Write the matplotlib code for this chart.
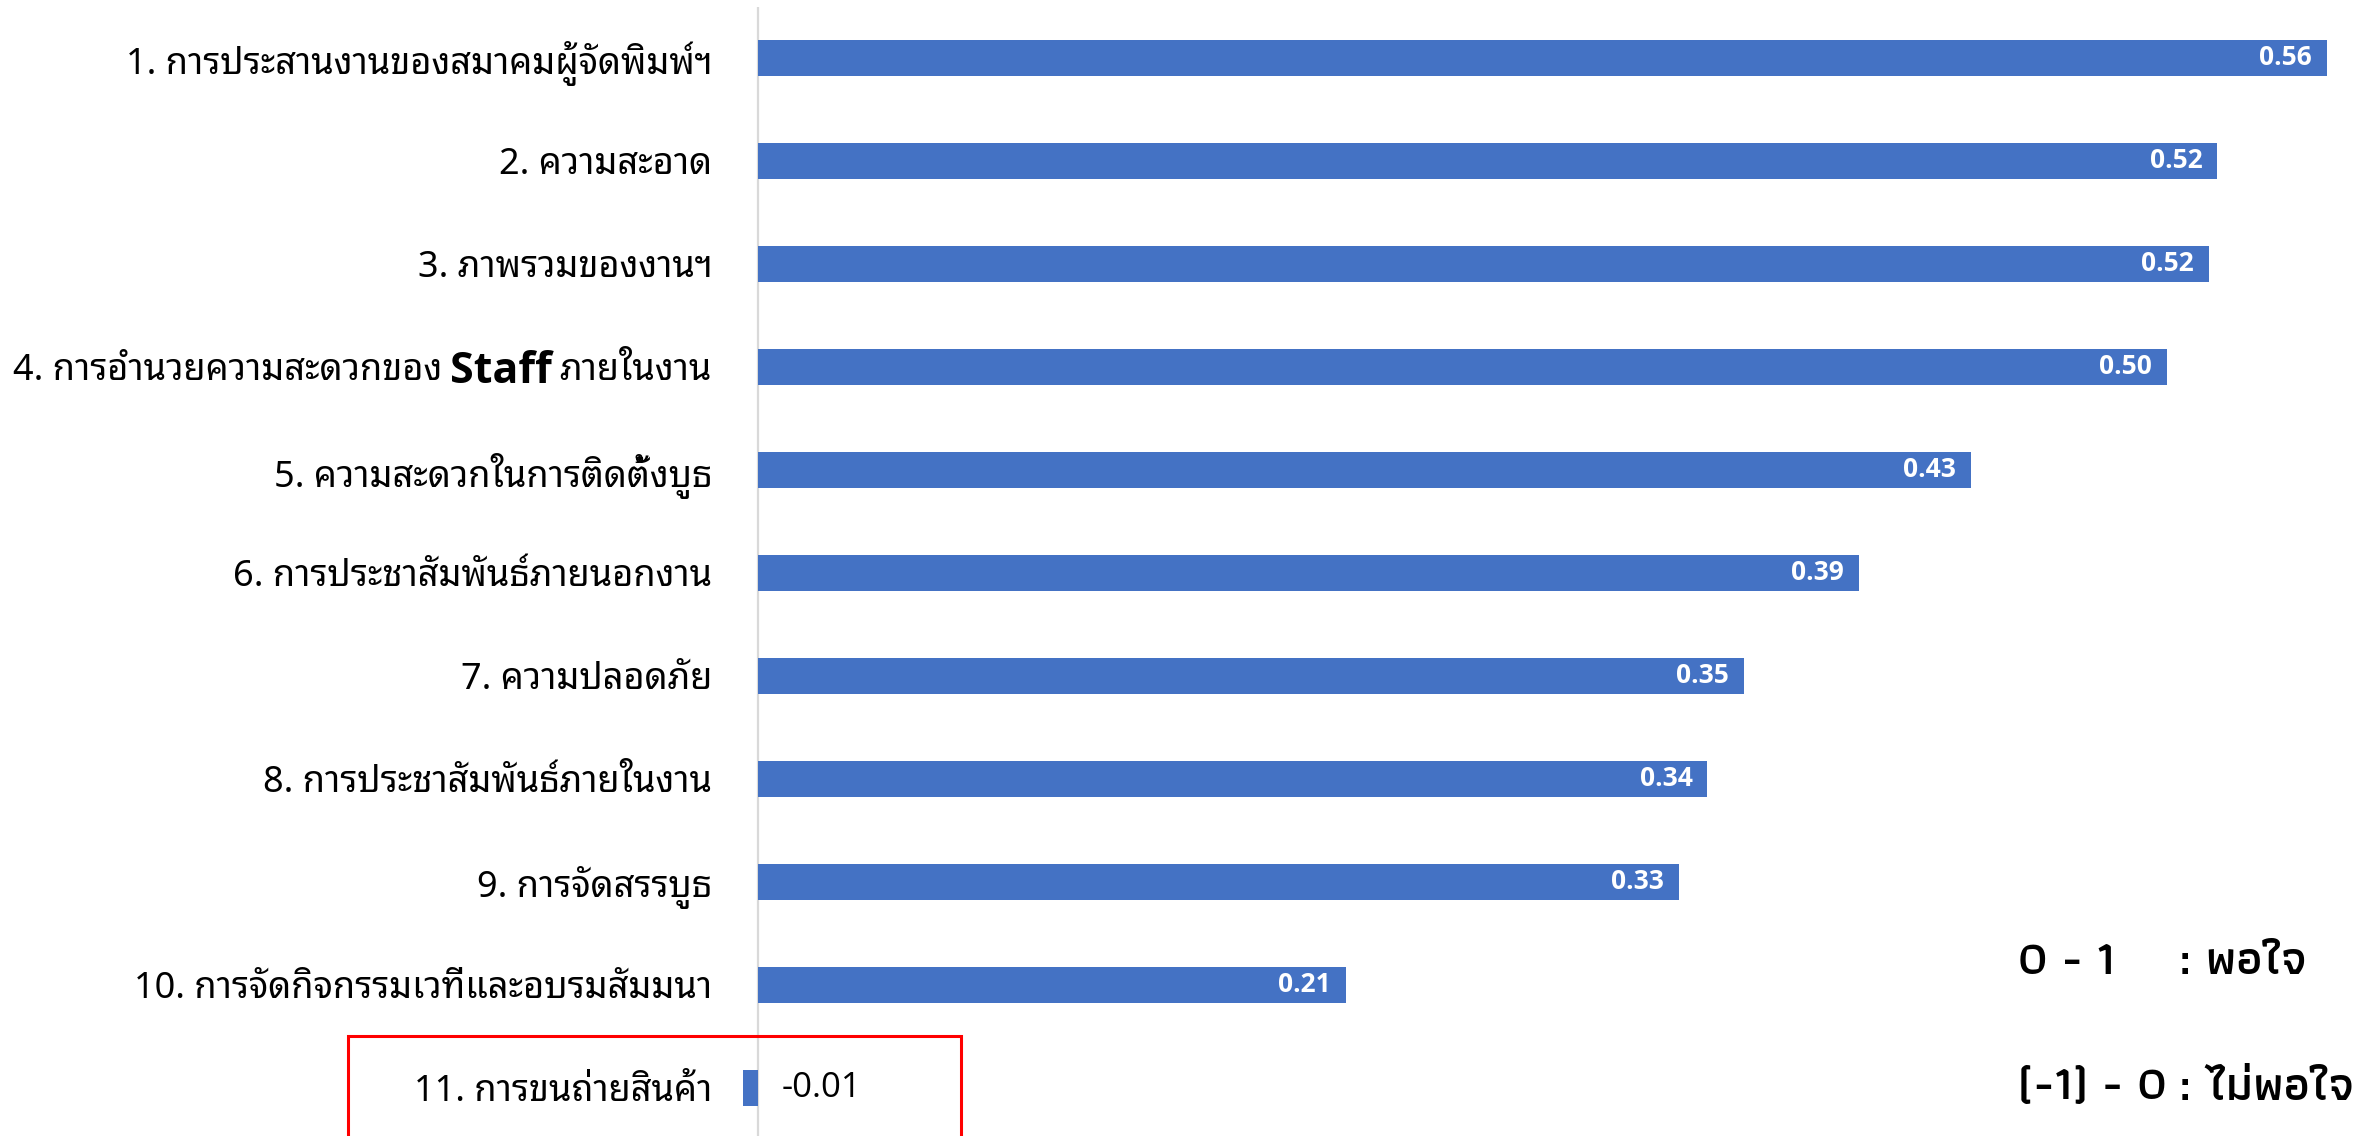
import matplotlib
matplotlib.use('Agg')
import matplotlib.pyplot as plt
import matplotlib.patches as mpatches

# data
categories = ['1. การประสานงานของสมาคมผู้จัดพิมพ์ฯ',
              '2. ความสะอาด',
              '3. ภาพรวมของงานฯ',
              '4. การอำนวยความสะดวกของ Staff ภายในงาน',
              '5. ความสะดวกในการติดตั้งบูธ',
              '6. การประชาสัมพันธ์ภายนอกงาน',
              '7. ความปลอดภัย',
              '8. การประชาสัมพันธ์ภายในงาน',
              '9. การจัดสรรบูธ',
              '10. การจัดกิจกรรมเวทีและอบรมสัมมนา',
              '11. การขนถ่ายสินค้า']
scores = [0.56, 0.521, 0.518, 0.503, 0.433, 0.393, 0.352, 0.339, 0.329, 0.21, -0.005]
legend_ranges = ['0 - 1', '(-1) - 0']
legend_meaning = [': พอใจ', ': ไม่พอใจ']

W, H = 2376, 1136
thai = ['Noto Sans Thai Looped', 'DejaVu Sans']
legend_font = ['Athiti', 'DejaVu Sans']
blue = '#4472C4'

fig = plt.figure(figsize=(W / 100, H / 100), dpi=100)
# zero at x=757px, 2802 px per unit
left_px, top_px = 740, 7
ax = fig.add_axes([left_px / W, 0, 1 - left_px / W, (H - top_px) / H])
ax.set_xlim((left_px - 757.5) / 2802, (W - 757.5) / 2802)
ax.set_ylim((H - 57.6) / 103, (top_px - 57.6) / 103)

pos = list(range(len(categories)))
ax.barh(pos, scores, height=0.35, color=blue, zorder=2)
ax.axvline(0, color='#d9d9d9', lw=1.6, zorder=1)

for s in ax.spines.values():
    s.set_visible(False)
ax.set_xticks([])
ax.set_yticks(pos)
labels = [c if 'Staff' not in c else '' for c in categories]
ax.set_yticklabels(labels, fontsize=26, family=thai)
ax.tick_params(axis='y', length=0, pad=20)

# label with bold "Staff"
fig.canvas.draw()
r = fig.canvas.get_renderer()
i4 = [k for k, c in enumerate(categories) if 'Staff' in c][0]
pre, post = categories[i4].split('Staff')
tr = ax.get_yaxis_transform()
off = -28
t = ax.annotate(post.strip(), xy=(0, i4), xycoords=tr, xytext=(off, 0), textcoords='offset pixels',
                ha='right', va='center_baseline', fontsize=26, family=thai)
off -= t.get_window_extent(r).width + 8
t = ax.annotate('Staff', xy=(0, i4), xycoords=tr, xytext=(off, 0), textcoords='offset pixels',
                ha='right', va='center_baseline', fontsize=31, family='Open Sans', weight='bold')
off -= t.get_window_extent(r).width + 8
ax.annotate(pre.strip(), xy=(0, i4), xycoords=tr, xytext=(off, 0), textcoords='offset pixels',
            ha='right', va='center_baseline', fontsize=26, family=thai)

# value labels
for p, v in zip(pos, scores):
    if v > 0:
        ax.annotate('%.2f' % v, xy=(v, p), xytext=(-15, 0), textcoords='offset pixels',
                    ha='right', va='center', color='white', fontsize=19, weight='bold',
                    family='Open Sans')
    else:
        ax.annotate('%.2f' % v, xy=(0, p), xytext=(24, 0), textcoords='offset pixels',
                    ha='left', va='center', color='black', fontsize=25, family='Open Sans')

# legend text on the right: ranges, then meanings lined up after the widest range
ys = [1 - (963 + 125 * k) / H for k in range(len(legend_ranges))]
widest = 0
for y, a in zip(ys, legend_ranges):
    t = fig.text(2018 / W, y, a, ha='left', va='center', fontsize=34, family=legend_font, weight='semibold')
    widest = max(widest, t.get_window_extent(r).width)
for y, b in zip(ys, legend_meaning):
    fig.text((2018 + widest + 12) / W, y, b, ha='left', va='center', fontsize=34, family=legend_font,
             weight='semibold')

# red box around item 11
fig.add_artist(mpatches.Rectangle((348 / W, -20 / H), (961 - 348) / W, (H - 1036 + 20) / H,
                                  transform=fig.transFigure, fill=False, ec='red', lw=2.2,
                                  clip_on=False))

fig.savefig('out.png', dpi=100)
